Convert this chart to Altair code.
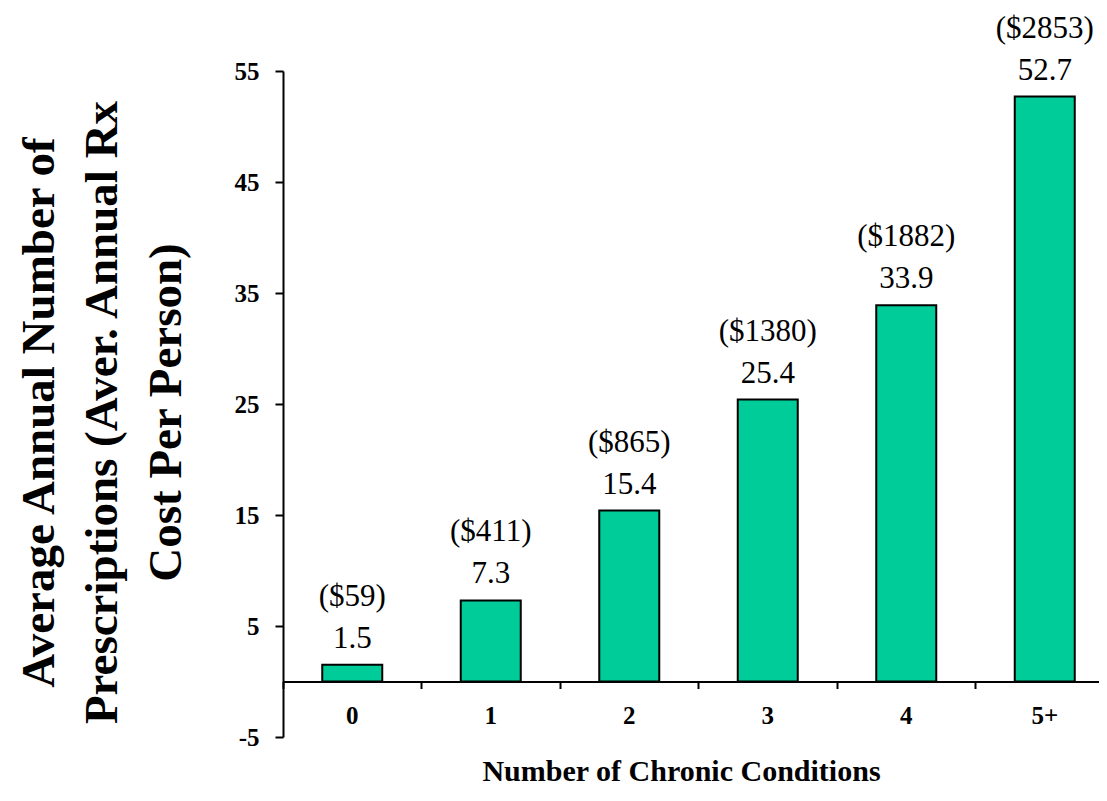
import altair as alt
import pandas as pd

categories = ["0", "1", "2", "3", "4", "5+"]
prescriptions = [1.5, 7.3, 15.4, 25.4, 33.9, 52.7]
costs = [59, 411, 865, 1380, 1882, 2853]
y_ticks = [-5, 5, 15, 25, 35, 45, 55]
y_title = ["Average Annual Number of", "Prescriptions (Aver. Annual Rx", "Cost Per Person)"]
x_title = "Number of Chronic Conditions"

df = pd.DataFrame({"cond": categories, "rx": prescriptions, "cost": costs})

FONT = "Liberation Serif"
W, H = 816, 666
XR = 831

x_enc = alt.X(
    "cond:N", sort=None,
    scale=alt.Scale(paddingInner=0, paddingOuter=0, range=[0, XR]),
    axis=alt.Axis(
        title=x_title, orient="bottom", offset=-55.5,
        bandPosition=0, labelAngle=0,
        domainColor="black", domainWidth=2,
        tickColor="black", tickWidth=2, tickSize=7,
        labelFont=FONT, labelFontSize=25, labelFontWeight="bold", labelColor="black",
        labelPadding=15,
        titleFont=FONT, titleFontSize=30, titleFontWeight="bold", titleColor="black",
        titleX=398, titleY=99, titleBaseline="alphabetic", titleAlign="center",
    ),
)
y_enc = alt.Y(
    "rx:Q",
    scale=alt.Scale(domain=[-5, 55], nice=False, zero=False),
    axis=alt.Axis(
        values=y_ticks, grid=False, title=y_title,
        labelExpr="'' + datum.value",
        domainColor="black", domainWidth=2,
        tickColor="black", tickWidth=2, tickSize=8,
        labelFont=FONT, labelFontSize=25, labelFontWeight="bold", labelColor="black",
        labelPadding=16,
        titleFont=FONT, titleFontSize=47, titleFontWeight="bold", titleColor="black",
        titleAngle=-90, titleX=-230, titleY=341, titleAlign="center",
        titleBaseline="alphabetic", titleLineHeight=63.5,
    ),
)

bars = alt.Chart(df).mark_bar(
    width=60, color="#00CC99", stroke="black", strokeWidth=2
).encode(x=x_enc, y=y_enc, y2=alt.datum(0))

vals = alt.Chart(df).mark_text(
    font=FONT, fontSize=31, color="black", dy=-17, baseline="alphabetic"
).encode(x=alt.X("cond:N", sort=None), y="rx:Q", text=alt.Text("rx:Q", format=".1f"))

cost_lbl = alt.Chart(df).transform_calculate(
    lbl="'($' + datum.cost + ')'"
).mark_text(
    font=FONT, fontSize=31, color="black", dy=-59, baseline="alphabetic"
).encode(x=alt.X("cond:N", sort=None), y="rx:Q", text="lbl:N")

chart = alt.layer(bars, vals, cost_lbl).properties(
    width=W, height=H,
    autosize=alt.AutoSizeParams(type="none"),
    padding={"left": 275, "top": 63, "right": 0, "bottom": 53},
    background="white",
).configure_view(stroke=None)

chart.save("out.html", embed_options={"renderer": "svg", "actions": False})
